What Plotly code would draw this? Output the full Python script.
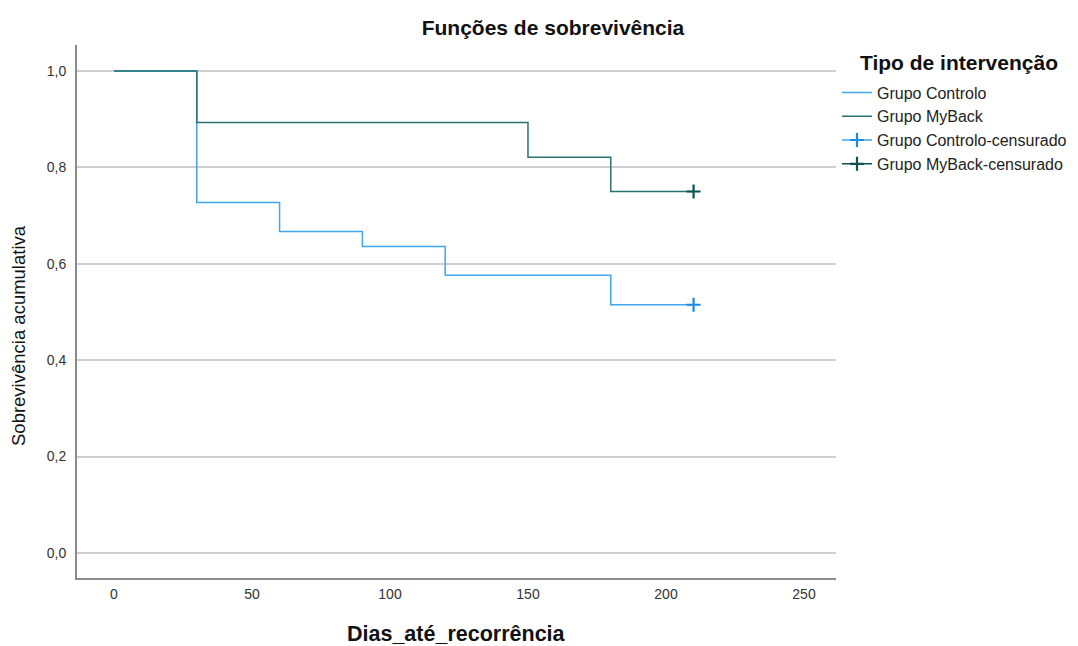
import plotly.graph_objects as go

# Data
control_days = [0, 30, 60, 90, 120, 180, 210]
control_surv = [1.0, 0.727, 0.667, 0.636, 0.576, 0.515, 0.515]
myback_days = [0, 30, 150, 180, 210]
myback_surv = [1.0, 0.893, 0.821, 0.750, 0.750]
control_cens_days = [210]
control_cens_surv = [0.515]
myback_cens_days = [210]
myback_cens_surv = [0.750]

c_control = "#42a5f0"
c_myback = "#2a7272"
c_control_cens = "#1e88e5"
c_myback_cens = "#0d5252"

W, H = 1070, 638
L, R, T, B = 69, 242, 37, 68
PW, PH = W - L - R, H - T - B

fig = go.Figure()
fig.add_trace(go.Scatter(x=control_days, y=control_surv, mode="lines",
                         line=dict(shape="hv", color=c_control, width=1.5),
                         name="Grupo Controlo"))
fig.add_trace(go.Scatter(x=myback_days, y=myback_surv, mode="lines",
                         line=dict(shape="hv", color=c_myback, width=1.5),
                         name="Grupo MyBack"))
fig.add_trace(go.Scatter(x=control_cens_days, y=control_cens_surv, mode="lines+markers",
                         line=dict(color=c_control, width=1.5),
                         marker=dict(symbol="cross-thin", size=10,
                                     line=dict(color=c_control_cens, width=2.2)),
                         name="Grupo Controlo-censurado"))
fig.add_trace(go.Scatter(x=myback_cens_days, y=myback_cens_surv, mode="lines+markers",
                         line=dict(color=c_myback_cens, width=1.5),
                         marker=dict(symbol="cross-thin", size=10,
                                     line=dict(color=c_myback_cens, width=2.2)),
                         name="Grupo MyBack-censurado"))

fig.update_layout(
    width=W, height=H,
    margin=dict(l=L, r=R, t=T, b=B, autoexpand=False),
    paper_bgcolor="white", plot_bgcolor="white",
    separators=",.",
    font=dict(family="Liberation Sans, Arial, sans-serif", size=14, color="#222"),
    title=dict(text="<b>Funções de sobrevivência</b>", xref="container", x=545 / W,
               xanchor="center", yref="container", y=1 - 20 / H, yanchor="middle",
               font=dict(size=21, color="#111")),
    xaxis=dict(range=[-13.4, 261.6], tickvals=[0, 50, 100, 150, 200, 250],
               showgrid=False, zeroline=False, showline=True, automargin=False,
               linecolor="#8c8c8c", linewidth=2, ticks="", ticklabelstandoff=2,
               tickfont=dict(size=14, color="#333")),
    yaxis=dict(range=[-0.052, 1.054], tickvals=[0, 0.2, 0.4, 0.6, 0.8, 1.0],
               tickformat=".1f", showgrid=True, gridcolor="#cfcfcf", gridwidth=1.5,
               zeroline=False, showline=True, linecolor="#8c8c8c", linewidth=2,
               automargin=False, ticks="", ticklabelstandoff=6,
               tickfont=dict(size=14, color="#333")),
    legend=dict(xref="container", yref="container", x=829 / W, xanchor="left",
                y=1 - 67.5 / H, yanchor="top",
                font=dict(size=16, color="#222"), tracegroupgap=0,
                itemwidth=30, bgcolor="rgba(0,0,0,0)"),
    annotations=[
        dict(text="<b>Tipo de intervenção</b>", xref="paper", yref="paper",
             x=(850 - L) / PW, y=(H - B - 55) / PH,
             xanchor="left", yanchor="middle", showarrow=False,
             font=dict(size=21, color="#111")),
        dict(text="<b>Dias_até_recorrência</b>", xref="paper", yref="paper",
             x=0.5, y=(H - B - 626) / PH, xanchor="center", yanchor="middle",
             showarrow=False, font=dict(size=21.5, color="#111")),
        dict(text="Sobrevivência acumulativa", xref="paper", yref="paper",
             x=(10 - L) / PW, y=(H - B - 328) / PH, xanchor="center", yanchor="middle",
             textangle=-90, showarrow=False, font=dict(size=18.5, color="#111")),
    ],
)

fig.write_html("out.html")
